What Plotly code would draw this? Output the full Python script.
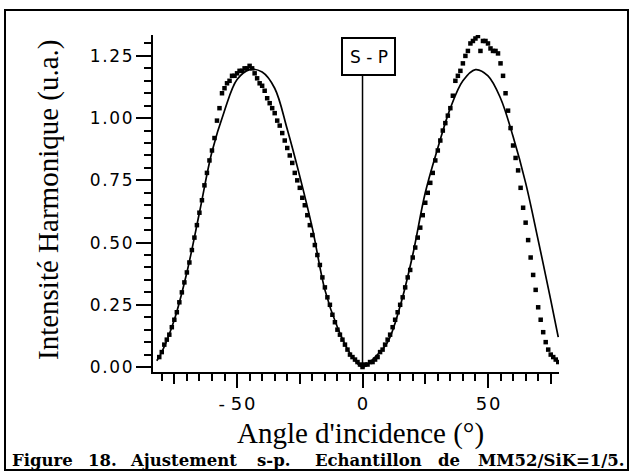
import plotly.graph_objects as go

# ---- data ----
# measured points (angle in degrees, harmonic intensity in a.u.)
angle_meas = [
    -81, -80, -79, -78, -77, -76, -75, -74, -73, -72,
    -71, -70, -69, -68, -67, -66, -65, -64, -63, -62,
    -61, -60, -59, -58, -57, -56, -55, -54, -53, -52,
    -51, -50, -49, -48, -47, -46, -45, -44, -43, -42,
    -41, -40, -39, -38, -37, -36, -35, -34, -33, -32,
    -31, -30, -29, -28, -27, -26, -25, -24, -23, -22,
    -21, -20, -19, -18, -17, -16, -15, -14, -13, -12,
    -11, -10, -9, -8, -7, -6, -5, -4, -3, -2,
    -1, 0, 1, 2, 3, 4, 5, 6, 7, 8,
    9, 10, 11, 12, 13, 14, 15, 16, 17, 18,
    19, 20, 21, 22, 23, 24, 25, 26, 27, 28,
    29, 30, 31, 32, 33, 34, 35, 36, 37, 38,
    39, 40, 41, 42, 43, 44, 45, 46, 47, 48,
    49, 50, 51, 52, 53, 54, 55, 56, 57, 58,
    59, 60, 61, 62, 63, 64, 65, 66, 67, 68,
    69, 70, 71, 72, 73, 74, 75, 76, 77, 78,
]
intensity_meas = [
    0.04, 0.06, 0.09, 0.11, 0.13, 0.16, 0.19, 0.22, 0.26, 0.30,
    0.34, 0.38, 0.42, 0.47, 0.52, 0.57, 0.62, 0.67, 0.73, 0.78,
    0.83, 0.87, 0.92, 0.99, 1.04, 1.10, 1.12, 1.14, 1.15, 1.17,
    1.17, 1.18, 1.19, 1.19, 1.20, 1.20, 1.21, 1.20, 1.18, 1.16,
    1.14, 1.13, 1.11, 1.08, 1.06, 1.04, 1.02, 0.99, 0.97, 0.94,
    0.91, 0.88, 0.85, 0.82, 0.78, 0.75, 0.72, 0.68, 0.65, 0.61,
    0.57, 0.53, 0.49, 0.45, 0.41, 0.36, 0.32, 0.28, 0.25, 0.21,
    0.18, 0.15, 0.13, 0.11, 0.09, 0.07, 0.05, 0.04, 0.03, 0.02,
    0.01, 0.00, 0.01, 0.01, 0.02, 0.02, 0.03, 0.04, 0.06, 0.07,
    0.09, 0.11, 0.13, 0.16, 0.19, 0.22, 0.25, 0.28, 0.32, 0.36,
    0.39, 0.44, 0.48, 0.52, 0.56, 0.61, 0.66, 0.70, 0.74, 0.78,
    0.83, 0.87, 0.91, 0.95, 0.98, 1.01, 1.04, 1.09, 1.15, 1.17,
    1.19, 1.22, 1.25, 1.27, 1.30, 1.31, 1.32, 1.33, 1.27, 1.31,
    1.31, 1.30, 1.28, 1.27, 1.27, 1.26, 1.22, 1.17, 1.10, 1.03,
    0.96, 0.89, 0.84, 0.79, 0.72, 0.64, 0.58, 0.51, 0.44, 0.37,
    0.31, 0.24, 0.19, 0.14, 0.10, 0.07, 0.05, 0.04, 0.03, 0.02,
]

# fitted s-p curve
angle_fit = [-82, -80, -75, -70, -65, -60, -55, -50, -45, -40, -35, -30, -25,
             -20, -15, -10, -5, 0, 5, 10, 15, 20, 25, 30, 35, 40, 45, 50,
             55, 60, 65, 70, 75, 78]
intensity_fit = [0.025, 0.06, 0.19, 0.38, 0.62, 0.865, 1.03, 1.155, 1.195, 1.185,
                 1.12, 0.955, 0.766, 0.558, 0.31, 0.16, 0.055, 0.0, 0.04, 0.10,
                 0.245, 0.45, 0.70, 0.88, 1.04, 1.15, 1.195, 1.17, 1.08, 0.926,
                 0.74, 0.51, 0.27, 0.12]

HS = "\u200a"  # hair space, the scan has loose letter spacing
x_ticks = [-75, -50, -25, 0, 25, 50, 75]
x_labels = ["- 5" + HS + "0", "0", "5" + HS + "0"]
y_ticks = [0.0, 0.25, 0.5, 0.75, 1.0, 1.25]
y_labels = [HS.join(s) for s in ["0.00", "0.25", "0.50", "0.75", "1.00", "1.25"]]

# plot-area box in page pixels (from the scan)
W, H = 630, 473
L, R, T, B = 153, 559, 35, 372


def px(xp):
    return (xp - L) / (R - L)


def py(yp):
    return (B - yp) / (B - T)


SANS = "DejaVu Sans"
SERIF = "Liberation Serif"

fig = go.Figure()

fig.add_trace(go.Scatter(
    x=angle_fit, y=intensity_fit, mode="lines",
    line=dict(color="black", width=1.7, shape="spline", smoothing=1.0),
    showlegend=False
))
fig.add_trace(go.Scatter(
    x=angle_meas, y=intensity_meas, mode="markers",
    marker=dict(symbol="square", size=4.5, color="black", line=dict(width=0)),
    showlegend=False
))
# invisible trace so that the long-tick overlay axis is drawn
fig.add_trace(go.Scatter(x=[0], y=[0], xaxis="x2", mode="markers",
                         marker=dict(opacity=0), showlegend=False, hoverinfo="skip"))

# S-P marker line at normal incidence
fig.add_shape(type="line", xref="x", yref="y", x0=0, x1=0, y0=0, y1=1.174,
              line=dict(color="black", width=1.5))
fig.add_shape(type="rect", xref="paper", yref="paper",
              x0=px(342), x1=px(395), y0=py(75), y1=py(38),
              line=dict(color="black", width=2), fillcolor="white")


def note(xp, yp, text, size, family, **kw):
    opts = dict(xanchor="center", yanchor="middle")
    opts.update(kw)
    fig.add_annotation(x=px(xp), y=py(yp), xref="paper", yref="paper",
                       text=text, showarrow=False,
                       font=dict(family=family, size=size, color="black"), **opts)


note(368.5, 57, "S - P", 17, SANS)

# outer frame of the scanned figure
fig.add_shape(type="rect", xref="paper", yref="paper",
              x0=px(5), x1=px(628), y0=py(470), y1=py(10),
              line=dict(color="black", width=2), layer="below")

# axis titles
note(48, 200, "Intensité Harmonique (u.a.)", 29, SERIF, textangle=-90)
note(360, 434, "Angle d'incidence (°)", 29, SERIF)

# justified caption, one word at a time
caption_words = ["Figure", "18.", "Ajustement", "s-p.", "Echantillon", "de", "MM52/SiK=1/5."]
caption_left = [10, 86, 128, 255, 313, 436, 476]
for word, xl in zip(caption_words, caption_left):
    note(xl, 460, "<b>%s</b>" % word, 16.5, "DejaVu Serif", xanchor="left")

fig.update_layout(
    width=W, height=H,
    margin=dict(l=L, r=W - R, t=T, b=H - B, autoexpand=False),
    paper_bgcolor="white", plot_bgcolor="white",
    xaxis=dict(
        range=[-83.5, 78.3], showgrid=False, zeroline=False, automargin=False,
        showline=True, linecolor="black", linewidth=2,
        ticks="outside", tickvals=x_ticks, ticklen=10, tickwidth=1.5,
        tickcolor="black", showticklabels=False,
        minor=dict(dtick=5, tick0=0, ticks="outside", ticklen=7,
                   tickwidth=1.5, tickcolor="black"),
    ),
    xaxis2=dict(
        overlaying="x", side="bottom", range=[-83.5, 78.3], automargin=False,
        showgrid=False, zeroline=False, showline=False,
        ticks="outside", tickvals=[-50, 0, 50], ticktext=x_labels,
        ticklen=15, tickwidth=1.5, tickcolor="black",
        tickfont=dict(family=SANS, size=18, color="black"),
    ),
    yaxis=dict(
        range=[-0.02, 1.334], showgrid=False, zeroline=False, automargin=False,
        showline=True, linecolor="black", linewidth=2,
        ticks="outside", tickvals=y_ticks, ticktext=y_labels,
        ticklen=15, tickwidth=1.5, tickcolor="black",
        tickfont=dict(family=SANS, size=17, color="black"),
        minor=dict(dtick=0.05, tick0=0, ticks="outside", ticklen=7,
                   tickwidth=1.5, tickcolor="black"),
    ),
)

# the default page has an 8px body margin; drop it so the figure fills the window
fig.write_html("out.html", config={"displayModeBar": False},
               post_script="document.body.style.margin='0';document.body.style.overflow='hidden';")
